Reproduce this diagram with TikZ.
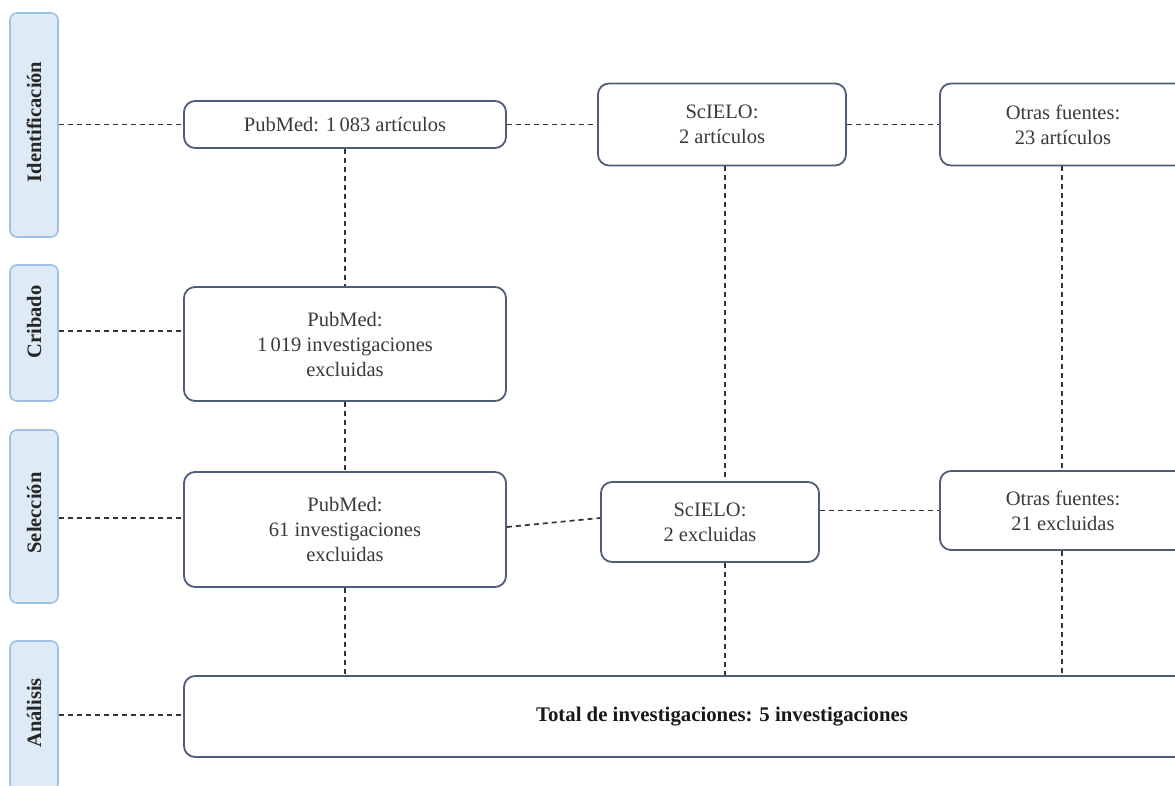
\documentclass[tikz,border=0pt]{standalone}
\usepackage{fontspec}
\setmainfont{Liberation Serif}
\usetikzlibrary{calc}
\definecolor{stagefill}{HTML}{DEEBF7}
\definecolor{stageline}{HTML}{9FC0E4}
\definecolor{boxline}{HTML}{4F5D78}
\definecolor{txt}{HTML}{3A3A3A}
\definecolor{dash}{HTML}{333333}
\tikzset{
  stagebox/.style={draw=stageline, fill=stagefill, line width=1.6pt, rounded corners=7pt, inner sep=0pt},
  stagelabel/.style={rotate=90, font=\fontsize{20.5}{24}\selectfont\bfseries, text=black!85},
  infobox/.style={draw=boxline, fill=white, line width=1.8pt, rounded corners=11pt, inner sep=0pt,
     align=center, font=\fontsize{20.5}{25}\selectfont, text=txt},
  link/.style={draw=dash, line width=1.7pt, dash pattern=on 5pt off 4pt}
}
\begin{document}
\begin{tikzpicture}[x=1pt,y=-1pt]
\useasboundingbox (0,0) rectangle (1175,786);
\clip (0,0) rectangle (1175,786);
\fill[white] (0,0) rectangle (1175,786);

% stage boxes
\node[stagebox, minimum width=48pt, minimum height=224pt] (sId) at (34,125) {};
\node[stagebox, minimum width=48pt, minimum height=136pt] (sCr) at (34,333) {};
\node[stagebox, minimum width=48pt, minimum height=173pt] (sSe) at (34,516.5) {};
\node[stagebox, minimum width=48pt, minimum height=150pt] (sAn) at (34,716) {};
\node[stagelabel] (lId) at (34,122) {Identificación};
\node[stagelabel] (lCr) at (34,322) {Cribado};
\node[stagelabel] (lSe) at (34,513) {Selección};
\node[stagelabel] (lAn) at (34,713) {Análisis};

% info boxes
\node[infobox, minimum width=322pt, minimum height=47pt] (p1) at (345,124.5) {PubMed: 1\,083 artículos};
\node[infobox, minimum width=248pt, minimum height=82pt] (s1) at (722,124.5) {ScIELO:\\2 artículos};
\node[infobox, minimum width=246pt, minimum height=82pt] (o1) at (1063,124.5) {Otras fuentes:\\23 artículos};
\node[infobox, minimum width=322pt, minimum height=114pt] (p2) at (345,344) {PubMed:\\1\,019 investigaciones\\excluidas};
\node[infobox, minimum width=322pt, minimum height=115pt] (p3) at (345,529.5) {PubMed:\\61 investigaciones\\excluidas};
\node[infobox, minimum width=218pt, minimum height=80pt] (s3) at (710,522) {ScIELO:\\2 excluidas};
\node[infobox, minimum width=246pt, minimum height=79pt] (o3) at (1063,510.5) {Otras fuentes:\\21 excluidas};
\node[infobox, minimum width=1010pt, minimum height=81pt] (tot) at (689,716.5) {};
\node[font=\fontsize{20.8}{24}\selectfont\bfseries, text=black!90] (totlbl) at (722,716.5) {Total de investigaciones: 5 investigaciones};

% horizontal links
\draw[link] (sId.east |- p1.west) -- (p1.west);
\draw[link] (p1.east) -- (s1.west |- p1.east);
\draw[link] (s1.east) -- (o1.west);
\draw[link] (sCr.east |- 0,331) -- (p2.west |- 0,331);
\draw[link] (sSe.east |- 0,518) -- (p3.west |- 0,518);
\coordinate (a3) at (p3.east |- 0,527);
\coordinate (b3) at (s3.west |- 0,518);
\draw[link] (a3) -- (b3);
\draw[link] (s3.east |- 0,510.5) -- (o3.west);
\draw[link] (sAn.east |- 0,715) -- (tot.west |- 0,715);

% vertical links
\draw[link] (p1.south) -- (p2.north);
\draw[link] (p2.south) -- (p3.north);
\draw[link] (p3.south) -- (p3.south |- tot.north);
\draw[link] (s1.south -| 725,0) -- (s3.north -| 725,0);
\draw[link] (s3.south -| 725,0) -- (tot.north -| 725,0);
\draw[link] (o1.south -| 1062,0) -- (o3.north -| 1062,0);
\draw[link] (o3.south -| 1062,0) -- (tot.north -| 1062,0);
\end{tikzpicture}
\end{document}
